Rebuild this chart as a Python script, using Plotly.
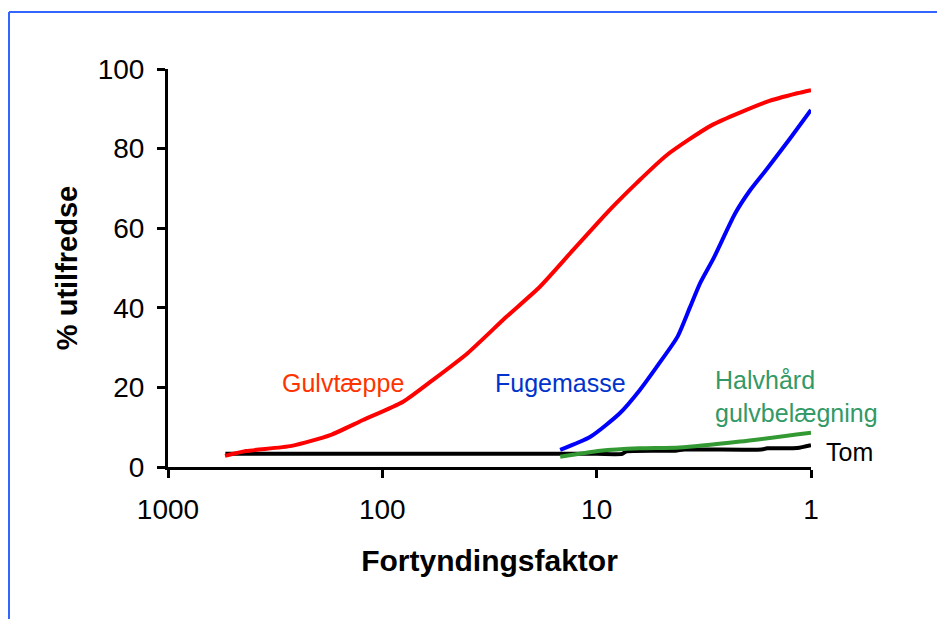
import math
import plotly.graph_objects as go

# Fortyndingsfaktor (dilution factor) and % dissatisfied for each material
gulv_x = [542, 432, 265, 175, 123, 80, 58, 40, 26.3, 18.4, 12.9, 9.3, 8.1, 6.5, 4.7, 2.9, 1.6, 1.16, 1.0]
gulv_y = [2.8, 4.0, 5.3, 8.0, 11.8, 16.4, 21.9, 28.6, 37.8, 45.3, 54.5, 62.9, 66.3, 71.4, 78.4, 85.9, 91.8, 93.9, 94.7]

fuge_x = [14.8, 10.7, 7.8, 6.3, 5.1, 4.2, 3.66, 3.29, 2.85, 2.26, 1.92, 1.6, 1.25, 1.0]
fuge_y = [4.3, 7.6, 13.5, 19.3, 26.1, 32.7, 40.3, 46.2, 52.4, 63.7, 69.6, 75.0, 82.6, 89.7]

halv_x = [14.8, 9.6, 6.3, 4.1, 2.14, 1.0]
halv_y = [2.6, 4.1, 4.7, 4.9, 6.4, 8.6]

tom_x = [540, 300, 100, 30, 10, 7.6, 7.3, 4.3, 3.9, 1.7, 1.6, 1.16, 1.0]
tom_y = [3.3, 3.3, 3.3, 3.3, 3.3, 3.3, 3.9, 4.1, 4.4, 4.4, 4.7, 4.8, 5.5]

x_ticks = [1000, 100, 10, 1]
x_tick_text = ["1000", "100", "10", "1"]
y_ticks = [0, 20, 40, 60, 80, 100]

FONT = "Liberation Sans, Arial, sans-serif"
X_RANGE = [3, 0]  # log10 of 1000 .. 1, reversed

fig = go.Figure()
for xs, ys, col in [
    (tom_x, tom_y, "#000000"),
    (halv_x, halv_y, "#339933"),
    (gulv_x, gulv_y, "#ff0000"),
    (fuge_x, fuge_y, "#0000ff"),
]:
    fig.add_trace(go.Scatter(x=xs, y=ys, mode="lines",
                             line=dict(color=col, width=4, shape="spline", smoothing=0.6),
                             showlegend=False, hoverinfo="skip"))


def x_paper(v):
    # position of a dilution factor as a fraction of the plot width
    return (X_RANGE[0] - math.log10(v)) / (X_RANGE[0] - X_RANGE[1])


labels = [
    ("Gulvtæppe", 152, 21, "#ff3300", "center"),
    ("Fugemasse", 14.8, 21, "#0033cc", "center"),
    ("Halvhård<br>gulvbelægning", 2.86, 17.8, "#339966", "left"),
    ("Tom", 0.865, 3.7, "#000000", "left"),
]
for text, xv, yv, col, align in labels:
    fig.add_annotation(x=x_paper(xv), xref="paper", y=yv, yref="y", text=text,
                       showarrow=False, xanchor=align, align=align, yanchor="middle",
                       font=dict(family=FONT, size=25, color=col))

W, H = 937, 619
L, R, T, B = 168, 126, 69, 152
pw, ph = W - L - R, H - T - B


def px_to_paper(px, py):
    return (px - L) / pw, 1 - (py - T) / ph


bx0, by0 = px_to_paper(9, 12)
bx1, by1 = px_to_paper(W + 5, H + 5)
fig.add_shape(type="line", xref="paper", yref="paper", x0=bx0, y0=by0, x1=bx1, y1=by0,
              line=dict(color="#3366ff", width=2))
fig.add_shape(type="line", xref="paper", yref="paper", x0=bx0, y0=by0, x1=bx0, y1=by1,
              line=dict(color="#3366ff", width=2))

fig.update_layout(
    width=W, height=H,
    margin=dict(l=L, r=R, t=T, b=B),
    paper_bgcolor="white", plot_bgcolor="white",
    font=dict(family=FONT, size=26, color="black"),
    xaxis=dict(type="log", range=X_RANGE, tickvals=x_ticks, ticktext=x_tick_text,
               showgrid=False, zeroline=False, showline=True, linecolor="black", linewidth=3,
               ticks="outside", ticklen=8, tickwidth=3, tickcolor="black",
               tickfont=dict(family=FONT, size=28), ticklabelstandoff=7,
               title=dict(text="<b>Fortyndingsfaktor</b>", font=dict(family=FONT, size=30), standoff=27)),
    yaxis=dict(range=[0, 100], tickvals=y_ticks, showgrid=False, zeroline=False,
               showline=True, linecolor="black", linewidth=3,
               ticks="outside", ticklen=8, tickwidth=3, tickcolor="black",
               tickfont=dict(family=FONT, size=28), ticklabelstandoff=7,
               title=dict(text="<b>% utilfredse</b>", font=dict(family=FONT, size=29), standoff=12)),
)

fig.write_html("out.html")
